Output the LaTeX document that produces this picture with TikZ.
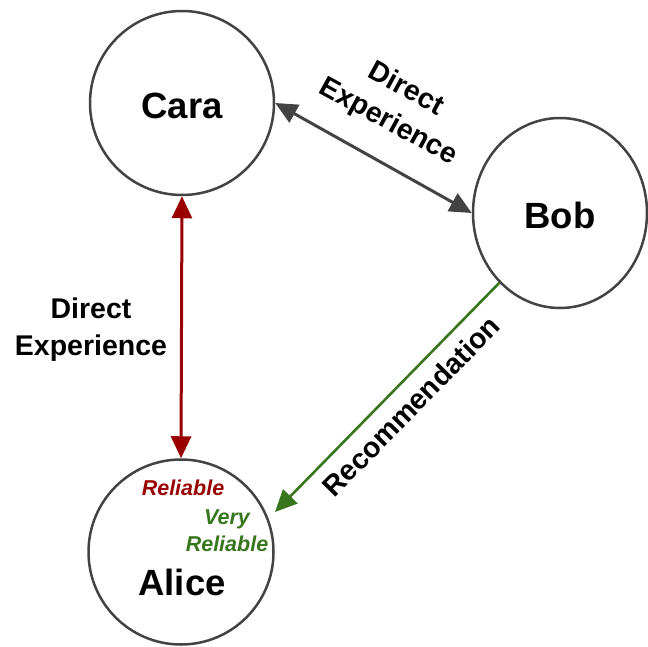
\documentclass[tikz,border=0pt]{standalone}
\usepackage{fontspec}
\setmainfont{Liberation Sans}
\usetikzlibrary{arrows.meta,shapes.geometric}
\definecolor{ringgray}{HTML}{434343}
\definecolor{trustred}{HTML}{990000}
\definecolor{trustgreen}{HTML}{38761D}
\begin{document}
\begin{tikzpicture}[x=1pt,y=-1pt,
  person/.style={draw=ringgray,line width=2.5pt,inner sep=0pt},
  who/.style={font=\fontsize{36.5}{40}\selectfont\bfseries,text=black},
  edgelabel/.style={font=\fontsize{28.5}{37}\selectfont\bfseries,align=center,text=black,inner sep=0pt},
  rating/.style={font=\fontsize{21.5}{27}\selectfont\bfseries\itshape,align=center,inner sep=0pt},
  link/.style={line width=3pt,{Triangle[length=22pt,width=20pt]}-{Triangle[length=22pt,width=20pt]}},
  oneway/.style={line width=2.6pt,-{Triangle[length=22pt,width=20pt]}}]
\useasboundingbox (0,0) rectangle (648,646);

% people
\node[person,circle,minimum size=184pt] (cara) at (182,103) {};
\node[person,ellipse,minimum width=174pt,minimum height=190pt] (bob) at (560,213) {};
\node[person,circle,minimum size=185pt] (alice) at (181,552) {};

\node[who] (caraname) at (182,106) {Cara};
\node[who] (bobname) at (560,215) {Bob};
\node[who] (alicename) at (182,582) {Alice};

% connectors
\draw[link,draw=ringgray,fill=ringgray] (cara.east) -- (bob.west);
\draw[link,draw=trustred,fill=trustred] (cara.south) -- (alice.north);
\coordinate (recend) at (275,512);
\draw[oneway,draw=trustgreen,fill=trustgreen] (bob.229) -- (recend);

% connector labels
\node[edgelabel,rotate=-28.6] (cblabel) at (397,106) {Direct\\Experience};
\node[edgelabel] (calabel) at (91,330) {Direct\\Experience};
\node[edgelabel,rotate=45.5] (reclabel) at (411,406) {Recommendation};

% ratings held by Alice
\node[rating,text=trustred] (rel) at (183,488) {Reliable};
\node[rating,text=trustgreen] (vrel) at (227,531) {Very\\Reliable};
\end{tikzpicture}
\end{document}
